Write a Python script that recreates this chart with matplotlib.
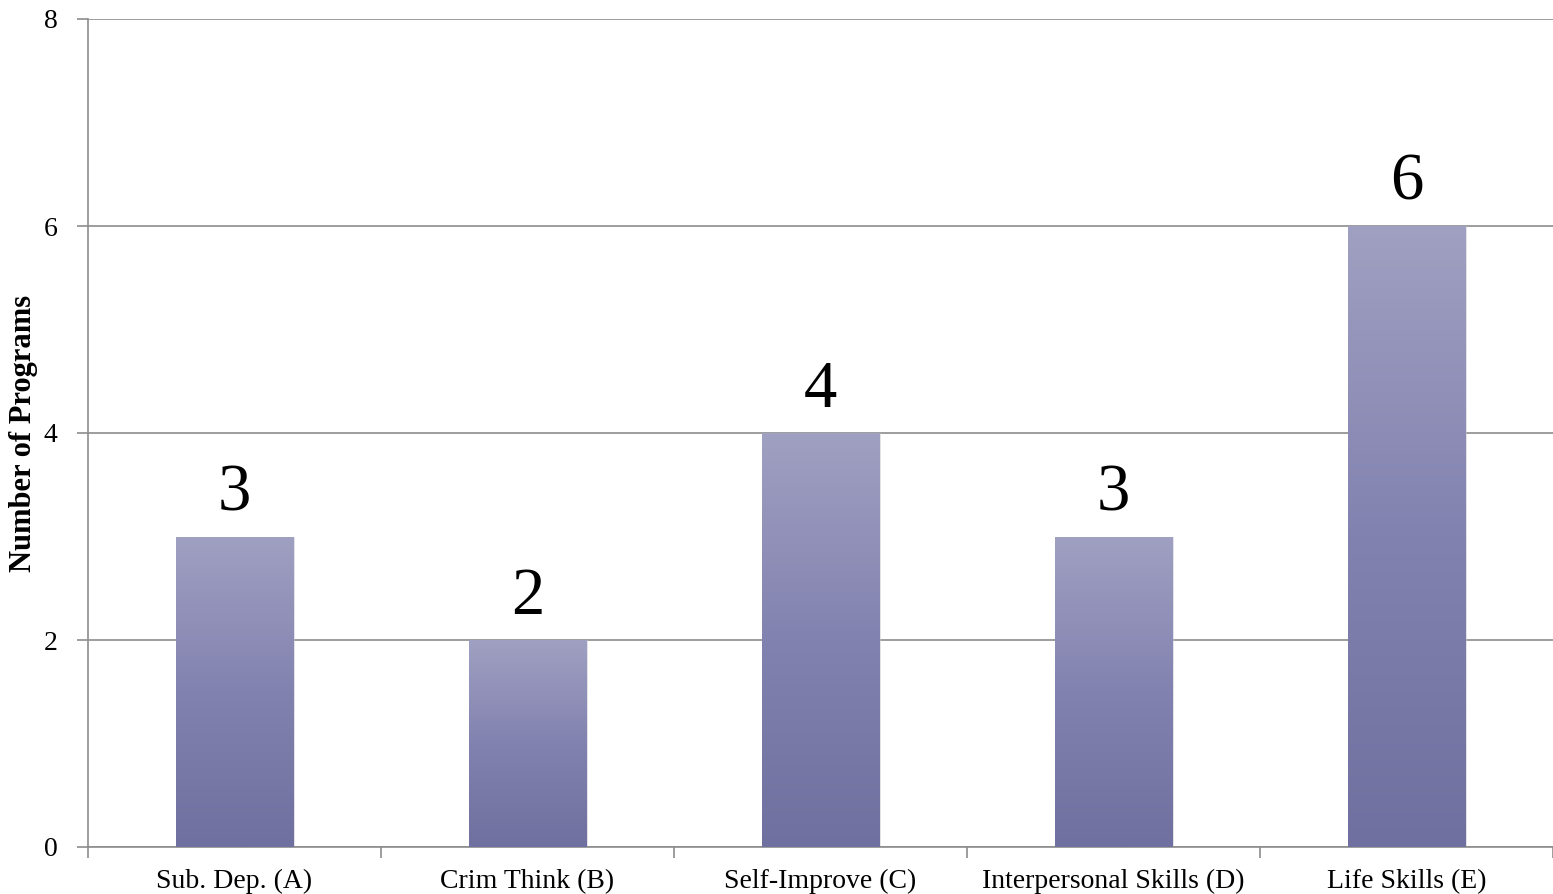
import matplotlib.pyplot as plt
import numpy as np
from matplotlib.colors import LinearSegmentedColormap

# program counts per category
categories = ['Sub. Dep. (A)', 'Crim Think (B)', 'Self-Improve (C)',
              'Interpersonal Skills (D)', 'Life Skills (E)']
counts = [3, 2, 4, 3, 6]

plt.rcParams['font.family'] = ['Liberation Serif', 'DejaVu Serif']

fig = plt.figure(figsize=(15.53, 8.94), dpi=100)
ax = fig.add_axes([88 / 1553, 47 / 894, (1553 - 88) / 1553, (847 - 19) / 894])

x = np.arange(len(categories))
bars = ax.bar(x, counts, width=0.4, color='none', edgecolor='none', zorder=3)

# vertical gradient fill, light at the top of each bar, darker at the base
grad = LinearSegmentedColormap.from_list('bargrad', ['#7070a0', '#8282b0', '#a0a0c2'])
g = np.linspace(0, 1, 256).reshape(-1, 1)
for b in bars:
    x0, w, h = b.get_x(), b.get_width(), b.get_height()
    # soft shadow on the right side
    ax.bar(b.get_x() + w / 2 + 0.008, h, width=w, color='#c8c8d0',
           alpha=0.5, zorder=2)
    im = ax.imshow(g, cmap=grad, origin='lower', aspect='auto',
                   extent=[x0, x0 + w, 0, h], zorder=3)
    im.set_clip_path(b)
    ax.text(x0 + w / 2, h + 0.12, str(int(h)), ha='center', va='bottom',
            fontsize=48, color='black', zorder=4)

ax.set_xlim(-0.5, len(categories) - 0.5)
ax.set_ylim(0, 8)
ax.set_yticks([0, 2, 4, 6, 8])
ax.set_yticklabels(['0', '2', '4', '6', '8'], fontsize=20)
ax.set_xticks(x)
ax.set_xticklabels(categories, fontsize=20)
ax.set_xticks(np.arange(len(categories) + 1) - 0.5, minor=True)

ax.tick_params(axis='x', which='major', length=0, pad=16)
ax.tick_params(axis='x', which='minor', length=8, color='#8c8c8c', width=1.2)
ax.tick_params(axis='y', length=8, color='#8c8c8c', width=1.2, pad=14)

ax.yaxis.grid(True, color='#8c8c8c', linewidth=1.2, zorder=1)
ax.set_axisbelow(True)
for s in ['top', 'right']:
    ax.spines[s].set_visible(False)
for s in ['left', 'bottom']:
    ax.spines[s].set_color('#8c8c8c')
    ax.spines[s].set_linewidth(1.2)

ax.set_ylabel('Number of Programs', fontsize=22, fontweight='bold')
ax.yaxis.set_label_coords(-0.034, 0.5)

fig.savefig('out.png', dpi=100)
